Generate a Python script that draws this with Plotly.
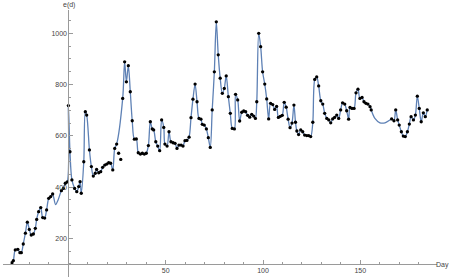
import plotly.graph_objects as go

# ---- data ----
# points that lie on the interpolating curve
day = [-29.0, -28.3, -27.3, -26.0, -24.9, -24.2, -23.2, -22.1, -21.1, -20.1, -19.1, -18.0, -17.0,
       -16.3, -15.3, -14.2, -13.2, -12.2, -11.2, -10.1, -9.1, -8.1, -3.6, -2.6, -1.6, -0.6, 0.0,
       0.8, 1.8, 3.2, 4.3, 5.3, 6.0, 6.6, 7.9, 8.7, 9.4, 10.8, 11.8, 12.8, 13.8, 14.5, 15.6, 16.6,
       17.6, 18.7, 19.7, 20.7, 21.7, 22.8, 23.8, 24.8, 27.9, 28.9, 29.8, 30.8, 31.8, 32.8, 33.9,
       34.9, 35.9, 37.0, 38.0, 39.0, 40.0, 41.1, 42.1, 43.1, 43.8, 44.9, 45.9, 46.9, 47.9, 49.0,
       49.6, 50.7, 51.7, 52.7, 53.8, 54.8, 55.8, 56.8, 57.9, 58.9, 59.9, 60.9, 62.0, 63.0, 64.0,
       65.1, 66.1, 67.1, 68.1, 68.8, 69.8, 70.9, 71.9, 72.9, 73.9, 75.0, 76.0, 77.0, 78.0, 79.1,
       80.1, 81.1, 82.2, 83.2, 84.2, 85.3, 85.9, 87.0, 88.0, 89.1, 90.1, 91.1, 92.1, 93.2, 94.2,
       95.2, 96.1, 96.8, 97.8, 98.8, 99.8, 100.9, 101.9, 102.9, 103.9, 105.0, 106.0, 107.0, 107.9,
       108.9, 109.9, 110.9, 111.9, 112.9, 113.9, 114.9, 115.9, 116.7, 117.4, 118.3, 119.4, 120.4,
       121.4, 122.5, 123.5, 124.5, 125.6, 126.6, 127.6, 128.6, 129.7, 130.7, 131.7, 132.8, 133.8,
       134.8, 135.8, 136.8, 137.9, 138.9, 139.9, 140.9, 142.0, 143.0, 144.0, 144.7, 145.7, 146.8,
       147.8, 148.8, 149.8, 150.9, 151.9, 152.9, 153.9, 155.0, 155.6, 166.1, 167.3, 168.2, 169.2,
       170.0, 171.1, 172.1, 173.1, 174.2, 175.2, 176.1, 177.3, 178.3, 179.3, 180.3, 181.3, 182.4,
       183.4, 184.4]
value = [105, 113, 155, 157, 144, 144, 178, 220, 263, 235, 213, 217, 239,
         274, 304, 320, 281, 279, 311, 356, 363, 373, 386, 395, 415, 420, 718,
         538, 428, 395, 382, 402, 421, 376, 499, 694, 681, 545, 480, 443, 454, 469, 456, 460,
         477, 486, 490, 495, 493, 467, 551, 568, 746, 889, 811, 874, 772, 659, 587,
         588, 534, 529, 532, 529, 532, 562, 655, 627, 623, 577, 560, 542, 662, 633,
         568, 560, 616, 577, 573, 571, 551, 564, 564, 560, 581, 582, 595, 671, 743,
         802, 733, 668, 665, 645, 642, 627, 593, 555, 701, 850, 1045, 916, 825, 766,
         785, 834, 753, 688, 629, 627, 762, 740, 658, 692, 697, 694, 680, 673, 684,
         677, 668, 733, 1000, 948, 850, 802, 744, 666, 727, 722, 703, 715, 672,
         676, 680, 731, 712, 665, 632, 650, 720, 653, 619, 605, 623, 616,
         603, 601, 601, 597, 653, 820, 830, 795, 737, 724, 688, 668, 662,
         651, 666, 672, 681, 668, 701, 729, 724, 698, 665, 711, 707, 707,
         768, 782, 746, 750, 733, 727, 724, 714, 701, 666, 659, 701, 662,
         642, 616, 599, 597, 616, 646, 675, 662, 681, 755, 707, 655, 690,
         675, 701]

# points drawn away from the curve
off_day = [25.8, 26.9]
off_value = [532, 508]

# vertices of the curve where it runs without points
curve_day = [-6.6, -5.2, 157.5, 160.1, 162.7, 165.2]
curve_value = [332, 352, 668, 651, 651, 662]

x_ticks = [50, 100, 150]
y_ticks = [200, 400, 600, 800, 1000]
x_title = "Day"
y_title = "e(d)"

# ---- build ----
curve = sorted(list(zip(day, value)) + list(zip(curve_day, curve_value)))
line_x = [c[0] for c in curve]
line_y = [c[1] for c in curve]

W, H = 450, 280
AX = "#9a9a9a"
TXT = "#444444"
FONT = "Liberation Sans, Arial, sans-serif"

fig = go.Figure()
fig.add_trace(go.Scatter(x=line_x, y=line_y, mode="lines",
                         line=dict(color="#5E81B5", width=1.3, shape="spline", smoothing=0.9),
                         hoverinfo="skip"))
fig.add_trace(go.Scatter(x=day + off_day, y=value + off_value, mode="markers",
                         marker=dict(color="black", size=3.3, line=dict(width=0))))

fig.update_layout(
    template="none",
    width=W, height=H, margin=dict(l=0, r=0, t=0, b=0),
    paper_bgcolor="white", plot_bgcolor="white", showlegend=False,
    font=dict(family=FONT, size=7, color=TXT),
    xaxis=dict(domain=[3 / W, 436.7 / W], range=[-33.61, 189.26],
               anchor="free", position=(H - 264) / H,
               showline=True, linecolor=AX, linewidth=1,
               tickmode="array", tickvals=x_ticks, ticks="inside", ticklen=4,
               tickcolor=AX, tickwidth=1, tickfont=dict(family=FONT, size=7, color=TXT),
               showgrid=False, zeroline=False,
               minor=dict(ticks="inside", ticklen=2, tickcolor=AX, dtick=10, tick0=0,
                          showgrid=False)),
    yaxis=dict(domain=[(H - 277) / H, (H - 10) / H], range=[49.17, 1091.1],
               anchor="free", position=68.4 / W,
               showline=True, linecolor=AX, linewidth=1,
               tickmode="array", tickvals=y_ticks, ticks="inside", ticklen=4,
               tickcolor=AX, tickwidth=1, tickfont=dict(family=FONT, size=7, color=TXT),
               showgrid=False, zeroline=False,
               minor=dict(ticks="inside", ticklen=2, tickcolor=AX, dtick=50, tick0=0,
                          showgrid=False)),
    annotations=[
        dict(text=y_title, xref="paper", yref="paper", x=68.9 / W, y=1.0,
             xanchor="center", yanchor="top", showarrow=False, borderpad=0,
             font=dict(family=FONT, size=7, color=TXT)),
        dict(text=x_title, xref="paper", yref="paper", x=1.0, y=(H - 265) / H,
             xanchor="right", yanchor="middle", showarrow=False, borderpad=0,
             font=dict(family=FONT, size=7, color=TXT)),
    ],
)

fig.write_html("out.html")
